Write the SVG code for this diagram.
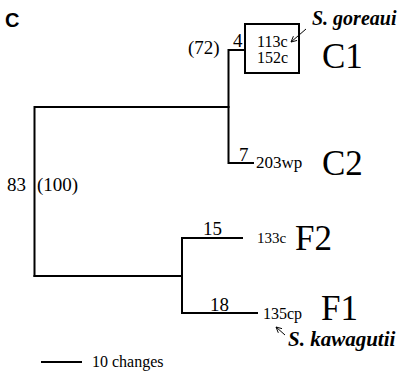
<svg xmlns="http://www.w3.org/2000/svg" width="403" height="373" viewBox="0 0 403 373">
<defs>
<style>
.br{stroke:#000;stroke-width:2;fill:none;stroke-linecap:square}
.ar{stroke:#000;stroke-width:1;fill:none}
.num{font-family:"Liberation Serif",serif;font-size:19px;fill:#000}
.tx{font-family:"Liberation Serif",serif;font-size:16px;fill:#000}
.cl{font-family:"Liberation Serif",serif;font-size:35px;fill:#000}
.sp{font-family:"Liberation Serif",serif;font-size:20px;font-weight:bold;font-style:italic;fill:#000}
.pl{font-family:"Liberation Sans",Arial,sans-serif;font-size:20px;font-weight:bold;fill:#000}
</style>
<marker id="ah" viewBox="0 0 10 10" refX="9" refY="5" markerWidth="7" markerHeight="7" orient="auto" markerUnits="userSpaceOnUse">
<path d="M1,1 L9,5 L1,9" fill="none" stroke="#000" stroke-width="1.3"/>
</marker>
</defs>
<rect width="403" height="373" fill="#fff"/>
<text class="pl" x="5" y="27">C</text>
<g id="connectors">
<path class="br" d="M34.5,276 V107 H228.5"/>
<path class="br" d="M245,50 H228.5 V163 H253"/>
<path class="br" d="M34.5,276 H182"/>
<path class="br" d="M242,238 H182 V313 H257"/>
<line class="ar" x1="306" y1="29" x2="291" y2="42" marker-end="url(#ah)"/>
<line class="ar" x1="285" y1="335" x2="276" y2="327" marker-end="url(#ah)"/>
</g>
<g id="node-root">
<text class="num" x="7" y="191">83</text>
<text class="num" x="37" y="191">(100)</text>
</g>
<g id="node-C">
<text class="num" x="188" y="54">(72)</text>
<text class="num" x="233" y="47">4</text>
<text class="num" x="239" y="161">7</text>
</g>
<g id="node-C1">
<rect x="245" y="24" width="54" height="49" fill="none" stroke="#000" stroke-width="2"/>
<text class="tx" x="257" y="47">113c</text>
<text class="tx" x="257" y="63">152c</text>
<text class="sp" x="312" y="25">S. goreaui</text>
<text class="cl" x="322" y="68">C1</text>
</g>
<g id="node-C2">
<text class="tx" x="256" y="168" style="font-size:17px">203wp</text>
<text class="cl" x="322" y="175">C2</text>
</g>
<g id="node-F">
<text class="num" x="203" y="235">15</text>
<text class="num" x="210" y="311">18</text>
</g>
<g id="node-F2">
<text class="tx" x="257" y="243" style="font-size:15px">133c</text>
<text class="cl" x="295" y="250">F2</text>
</g>
<g id="node-F1">
<text class="tx" x="263" y="319">135cp</text>
<text class="cl" x="321" y="319.5">F1</text>
<text class="sp" x="288" y="346" style="font-size:21px">S. kawagutii</text>
</g>
<g id="scale">
<line x1="41" y1="362" x2="82" y2="362" stroke="#000" stroke-width="2"/>
<text class="tx" x="92" y="367">10 changes</text>
</g>
</svg>
